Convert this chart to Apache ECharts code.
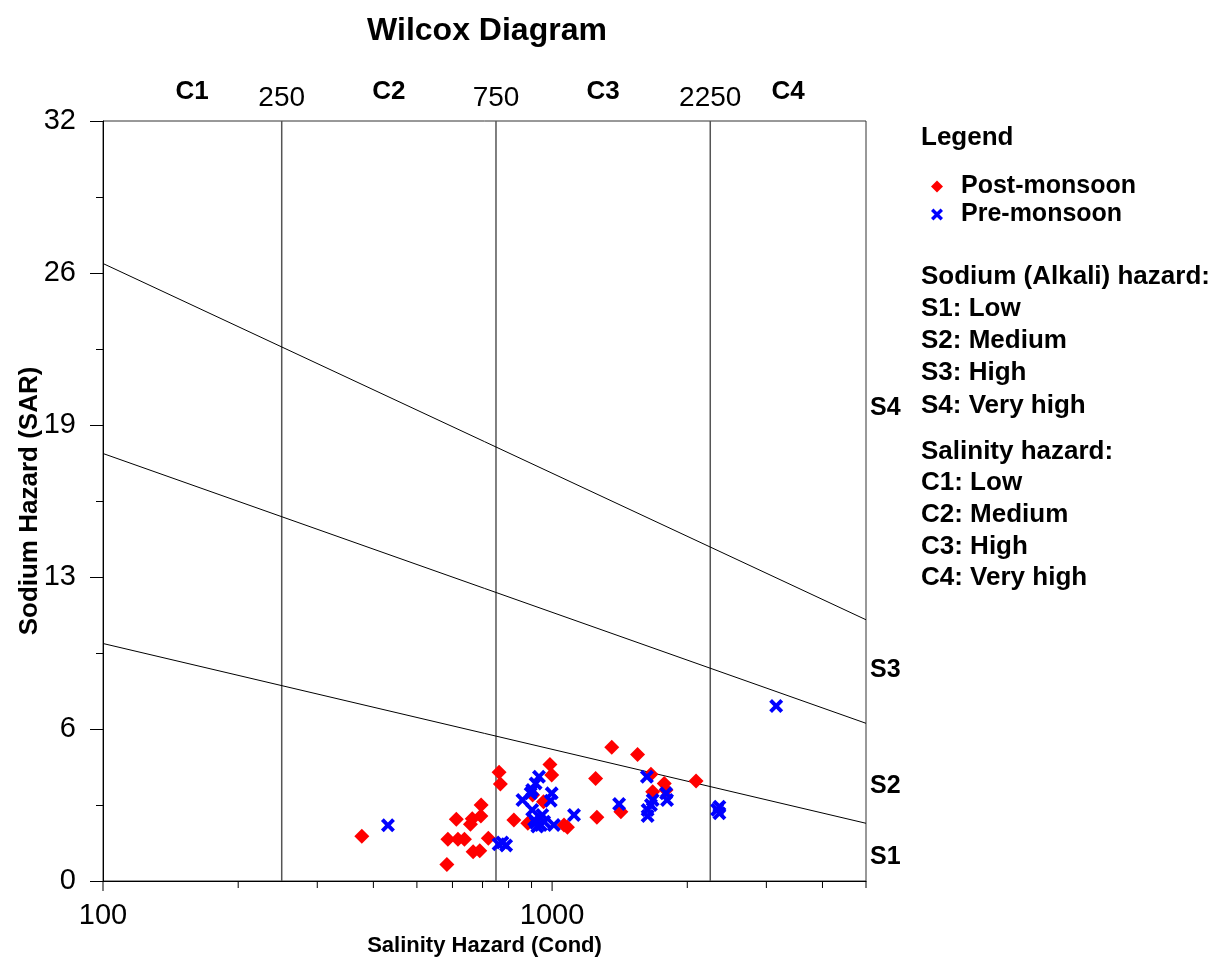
<!DOCTYPE html>
<html>
<head>
<meta charset="utf-8">
<script src="https://cdn.jsdelivr.net/npm/echarts@6/dist/echarts.min.js"></script>
<style>
html,body{margin:0;padding:0;background:#ffffff;}
#chart{width:1213px;height:965px;}
</style>
</head>
<body>
<div id="chart"></div>
<script>
// ---------- DATA ----------
const chartTitle = 'Wilcox Diagram';
const xAxisName = 'Salinity Hazard (Cond)';
const yAxisName = 'Sodium Hazard (SAR)';
const xMin = 100, xMax = 5000;
const yMin = 0, yMax = 32, yInterval = 6.4;
const xMajorTicks = [100, 1000];
const xMinorTicks = [200, 300, 400, 500, 600, 700, 800, 900, 2000, 3000, 4000, 5000];

// Post-monsoon samples [EC, SAR]
const postMonsoon = [
  [377, 1.88], [583, 0.70], [586, 1.76], [617, 1.76], [638, 1.76], [612, 2.60],
  [658, 2.39], [664, 2.62], [694, 2.74], [695, 3.20], [667, 1.23], [690, 1.27],
  [721, 1.80], [762, 4.58], [767, 4.08], [822, 2.57], [883, 2.43], [905, 3.62],
  [957, 3.34], [989, 4.91], [998, 4.46], [1063, 2.36], [1082, 2.26], [1250, 4.32],
  [1258, 2.68], [1358, 5.63], [1423, 2.92], [1550, 5.33], [1660, 4.50], [1675, 3.76],
  [1777, 4.11], [1794, 3.83], [2092, 4.21]
];
// Pre-monsoon samples [EC, SAR]
const preMonsoon = [
  [431, 2.35], [760, 1.55], [775, 1.62], [790, 1.50], [859, 3.41], [896, 3.69],
  [903, 3.83], [919, 4.11], [935, 4.39], [903, 2.99], [912, 2.57], [927, 2.29],
  [944, 2.36], [951, 2.78], [920, 2.45], [960, 2.50], [993, 3.38], [998, 3.69],
  [1009, 2.36], [1119, 2.78], [1410, 3.24], [1626, 4.39], [1632, 2.74], [1632, 2.99],
  [1660, 3.20], [1675, 3.41], [1794, 3.69], [1803, 3.41], [2330, 3.00], [2358, 2.85],
  [2358, 3.13], [3155, 7.37]
];

// Salinity class boundaries and zone labels
const salinityBounds = [250, 750, 2250];
const salinityClassNames = ['C1', 'C2', 'C3', 'C4'];
const salinityClassEC = [158, 433, 1299, 3354];

// Sodium hazard boundary lines: SAR at EC = 100 and EC = 5000
const sodiumLineStart = [26, 18, 10];
const sodiumLineEnd = [11.0, 6.64, 2.43];
const sodiumClassNames = ['S1', 'S2', 'S3', 'S4'];
const sodiumClassSAR = [1.0, 4.0, 8.9, 19.9];

const legendNames = ['Post-monsoon', 'Pre-monsoon'];
const legendHeading = 'Legend';
const notesLines = [
  'Sodium (Alkali) hazard:', 'S1: Low', 'S2: Medium', 'S3: High', 'S4: Very high',
  'Salinity hazard:', 'C1: Low', 'C2: Medium', 'C3: High', 'C4: Very high'
];

// ---------- CHART ----------
const FONT = 'Liberation Sans, Arial, Helvetica, sans-serif';
const xSymbol = 'path://M0,2 L2,0 L5,3 L8,0 L10,2 L7,5 L10,8 L8,10 L5,7 L2,10 L0,8 L3,5 Z';

const chart = echarts.init(document.getElementById('chart'), null, {renderer: 'canvas'});

const series = [];

// vertical salinity boundary lines
salinityBounds.forEach(v => {
  series.push({
    type: 'line', silent: true, symbol: 'none', animation: false,
    data: [[v, yMin], [v, yMax]],
    lineStyle: {color: '#555555', width: 1.5}, z: 1
  });
});
// sloping sodium boundary lines
sodiumLineStart.forEach((s, i) => {
  series.push({
    type: 'line', silent: true, symbol: 'none', animation: false,
    data: [[xMin, s], [xMax, sodiumLineEnd[i]]],
    lineStyle: {color: '#000000', width: 1}, z: 1
  });
});

// x-axis ticks (log positions) via custom series
function tickSeries(values, len) {
  return {
    type: 'custom', silent: true, animation: false, clip: false,
    data: values.map(v => [v, yMin]),
    renderItem: (params, api) => {
      const p = api.coord([api.value(0), api.value(1)]);
      return {type: 'line', shape: {x1: p[0], y1: p[1], x2: p[0], y2: p[1] + len},
              style: {stroke: '#000000', lineWidth: 1}};
    }
  };
}
series.push(tickSeries(xMajorTicks, 10));
series.push(tickSeries(xMinorTicks, 7));

// data series
series.push({
  name: legendNames[0], type: 'scatter', symbol: 'diamond', symbolSize: 15,
  itemStyle: {color: '#ff0000', opacity: 1}, data: postMonsoon, z: 3, animation: false
});
series.push({
  name: legendNames[1], type: 'scatter', symbol: xSymbol, symbolSize: 14,
  itemStyle: {color: '#0000ff', opacity: 1}, data: preMonsoon, z: 4, animation: false
});

// label-only helper series
function labelSeries(data, label) {
  return {
    type: 'scatter', silent: true, symbolSize: 0, clip: false, animation: false,
    itemStyle: {opacity: 1},
    data: data,
    label: Object.assign({show: true, formatter: p => p.name, color: '#000000',
                          opacity: 1, fontFamily: FONT}, label)
  };
}
// top labels: class names and boundary values
series.push(labelSeries(
  salinityClassEC.map((v, i) => ({value: [v, yMax], name: salinityClassNames[i]})),
  {position: 'top', distance: 16, fontWeight: 'bold', fontSize: 26}));
series.push(labelSeries(
  salinityBounds.map(v => ({value: [v, yMax], name: String(v)})),
  {position: 'top', distance: 9, fontSize: 28}));
// right labels: sodium class names
series.push(labelSeries(
  sodiumClassSAR.map((v, i) => ({value: [xMax, v], name: sodiumClassNames[i]})),
  {position: 'right', distance: 4, fontWeight: 'bold', fontSize: 25}));

const graphics = [
  {type: 'text', x: 487, y: 31, style: {text: chartTitle, fill: '#000',
    font: 'bold 32px ' + FONT, align: 'center', verticalAlign: 'middle'}},
  {type: 'text', x: 921, y: 138, style: {text: legendHeading, fill: '#000',
    font: 'bold 26px ' + FONT, verticalAlign: 'middle'}}
];
const noteY = [277, 309, 341, 373, 406, 452, 483, 515, 547, 578];
notesLines.forEach((t, i) => {
  graphics.push({type: 'text', x: 921, y: noteY[i],
    style: {text: t, fill: '#000', font: 'bold 26px ' + FONT, verticalAlign: 'middle'}});
});

const option = {
  backgroundColor: '#ffffff',
  animation: false,
  grid: {left: 103, right: 347, top: 121, bottom: 84, show: true,
         borderColor: '#333333', borderWidth: 1, backgroundColor: 'transparent',
         containLabel: false},
  legend: {
    data: legendNames, orient: 'vertical', left: 926, top: 169,
    itemWidth: 12, itemHeight: 12, itemGap: 3,
    textStyle: {color: '#000', fontFamily: FONT, fontWeight: 'bold', fontSize: 25,
                padding: [0, 0, 0, 13]},
    selectedMode: false
  },
  xAxis: {
    type: 'log', logBase: 10, min: xMin, max: xMax,
    name: xAxisName, nameLocation: 'middle', nameGap: 54,
    nameTextStyle: {color: '#000', fontFamily: FONT, fontWeight: 'bold', fontSize: 22},
    axisLine: {show: true, lineStyle: {color: '#000', width: 1}},
    axisTick: {show: false},
    splitLine: {show: false},
    axisLabel: {color: '#000', fontFamily: FONT, fontSize: 29, margin: 20,
      formatter: v => (xMajorTicks.indexOf(Math.round(v)) >= 0 ? String(Math.round(v)) : '')}
  },
  yAxis: {
    type: 'value', min: yMin, max: yMax, interval: yInterval,
    name: yAxisName, nameLocation: 'middle', nameGap: 60, nameRotate: 90,
    nameMoveOverlap: false,
    nameTextStyle: {color: '#000', fontFamily: FONT, fontWeight: 'bold', fontSize: 26},
    axisLine: {show: true, lineStyle: {color: '#000', width: 1}},
    axisTick: {show: true, length: 13, lineStyle: {color: '#000'}},
    minorTick: {show: true, splitNumber: 2, length: 7, lineStyle: {color: '#000'}},
    splitLine: {show: false},
    axisLabel: {color: '#000', fontFamily: FONT, fontSize: 29, margin: 27,
      formatter: v => String(Math.round(v))}
  },
  graphic: graphics,
  series: series
};
chart.setOption(option);
</script>
</body>
</html>
